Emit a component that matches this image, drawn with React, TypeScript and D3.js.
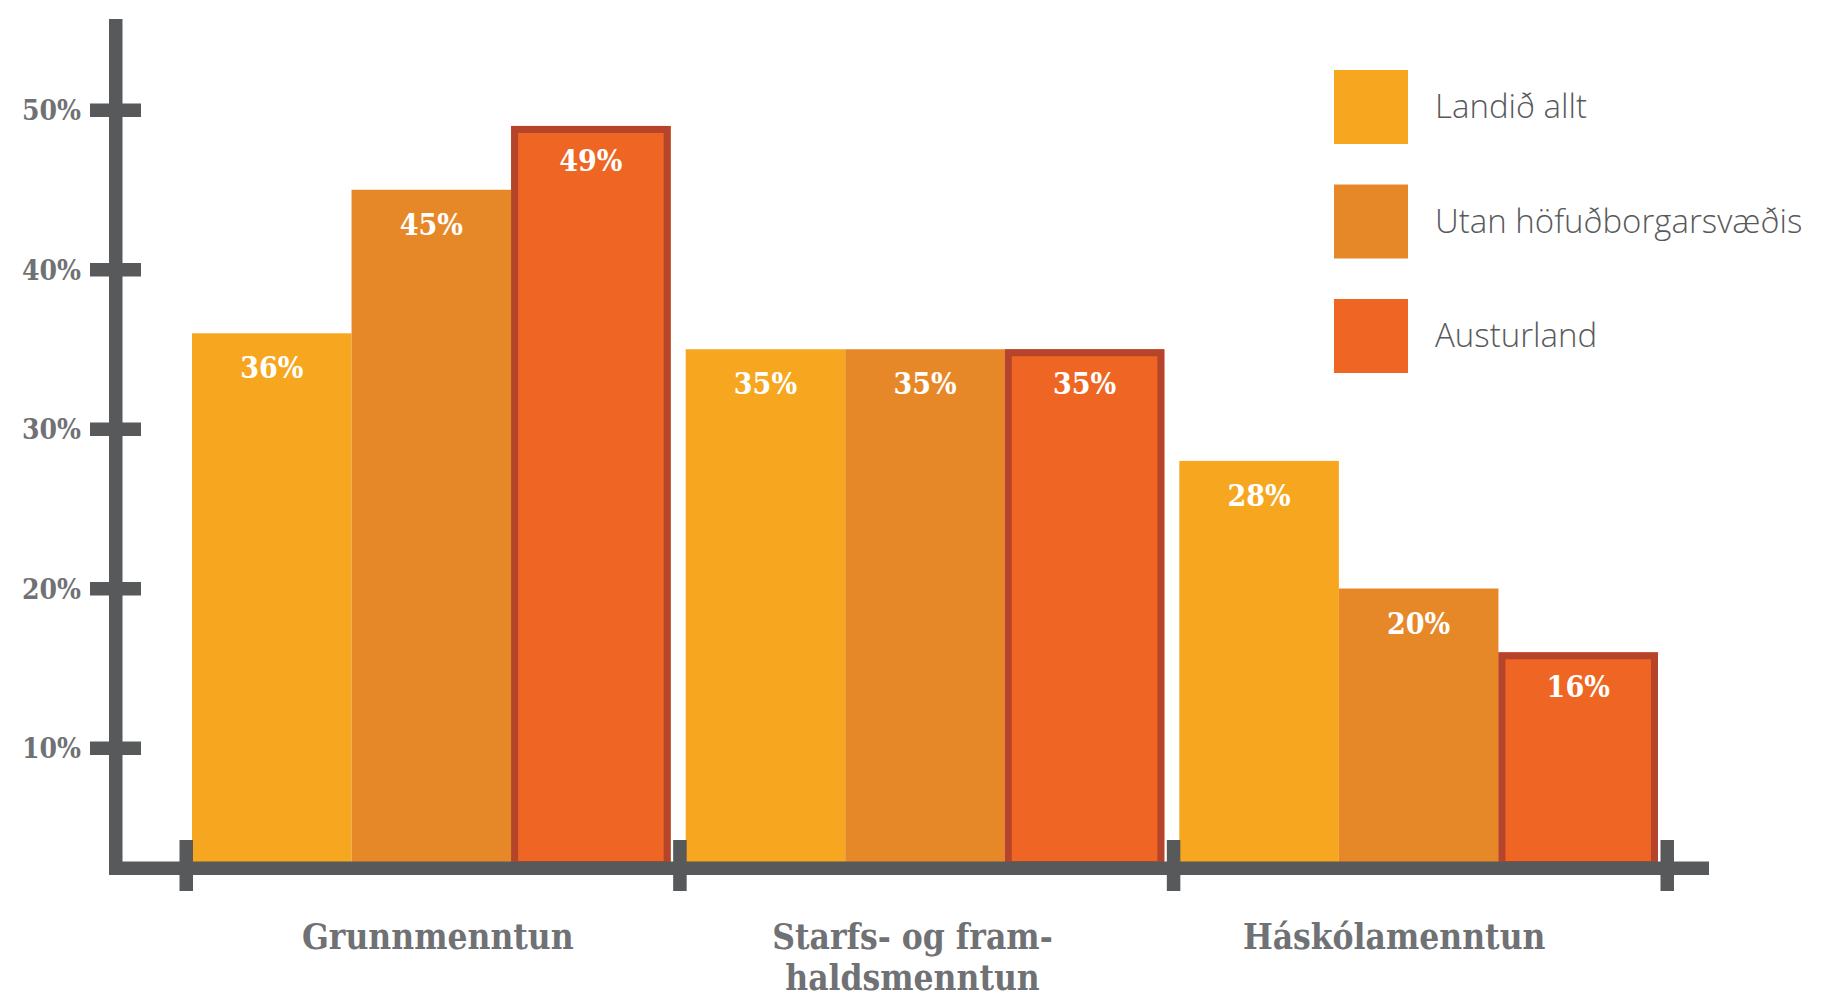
import { useMemo } from "react";
import * as d3 from "d3";

// ---- data ----
const categories = ["Grunnmenntun", "Starfs- og framhaldsmenntun", "Háskólamenntun"];
const categoryLines = [["Grunnmenntun"], ["Starfs- og fram-", "haldsmenntun"], ["Háskólamenntun"]];
const seriesNames = ["Landið allt", "Utan höfuðborgarsvæðis", "Austurland"];
const landidAllt = [36, 35, 28];
const utanHofudborgar = [45, 35, 20];
const austurland = [49, 35, 16];
const yTicks = [10, 20, 30, 40, 50];

const seriesValues = [landidAllt, utanHofudborgar, austurland];
const colors = ["#F7A71F", "#E78828", "#EF6624"];
const redBorder = "#B6442A";
const axisColor = "#58595B";
const labelGray = "#707174";
// small horizontal nudges of the category labels, as in the original layout
const labelShift = [5, -14, -26];

const W = 1835;
const H = 997;
const slab = "'DejaVu Serif Condensed', 'DejaVu Serif', serif";

export default function App() {
  const axisY = 868;
  const axisTop = axisY - 6.5;

  const x0 = useMemo(() => d3.scaleBand<string>().domain(categories).range([186, 1667]).padding(0), []);
  const x1 = useMemo(
    () => d3.scaleBand<string>().domain(seriesNames).range([6, x0.bandwidth() - 9]).padding(0),
    [x0]
  );
  const y = useMemo(() => d3.scaleLinear().domain([10, 50]).range([748, 110]), []);

  // category boundaries for x ticks
  const xTicks = [...categories.map((c) => x0(c)!), x0(categories[2])! + x0.bandwidth()];

  return (
    <svg width={W} height={H} style={{ position: "absolute", left: 0, top: 0, display: "block" }}>
      <rect width={W} height={H} fill="#fff" />

      {/* bars */}
      {categories.map((cat, ci) => (
        <g key={cat} transform={`translate(${x0(cat)},0)`}>
          {seriesNames.map((s, si) => {
            const v = seriesValues[si][ci];
            const bx = x1(s)!;
            const bw = x1.bandwidth();
            const by = y(v);
            const bh = axisY - by;
            const isRed = si === 2;
            return (
              <g key={s}>
                <rect x={bx} y={by} width={bw} height={bh} fill={colors[si]} />
                {isRed && (
                  <rect
                    x={bx + 3.5}
                    y={by + 3.5}
                    width={bw - 7}
                    height={bh - 7}
                    fill="none"
                    stroke={redBorder}
                    strokeWidth={7}
                  />
                )}
                <text
                  x={bx + bw / 2}
                  y={by + 45}
                  textAnchor="middle"
                  fill="#fff"
                  fontFamily={slab}
                  fontWeight="bold"
                  fontSize={30}
                  style={{ fontStretch: "condensed" }}
                >
                  {v}%
                </text>
              </g>
            );
          })}
        </g>
      ))}

      {/* y axis */}
      <rect x={109} y={19} width={13.5} height={axisY + 6.5 - 19} fill={axisColor} />
      {yTicks.map((t) => (
        <g key={t}>
          <rect x={90} y={y(t) - 6.5} width={51} height={13.5} fill={axisColor} />
          <text
            x={81}
            y={y(t) + 10}
            textAnchor="end"
            fill={labelGray}
            fontFamily={slab}
            fontWeight="bold"
            fontSize={28}
            style={{ fontStretch: "condensed" }}
          >
            {t}%
          </text>
        </g>
      ))}

      {/* x axis */}
      <rect x={109} y={axisTop} width={1709 - 109} height={13.5} fill={axisColor} />
      {xTicks.map((t, i) => (
        <rect key={i} x={t - 6.5} y={840} width={13.5} height={51} fill={axisColor} />
      ))}

      {/* category labels */}
      {categories.map((cat, ci) => {
        const cx = x0(cat)! + x0.bandwidth() / 2 + labelShift[ci];
        return (
          <text
            key={cat}
            x={cx}
            y={949}
            textAnchor="middle"
            fill={labelGray}
            fontFamily={slab}
            fontWeight="bold"
            fontSize={35}
            style={{ fontStretch: "condensed" }}
          >
            {categoryLines[ci].map((line, li) => (
              <tspan key={li} x={cx} dy={li === 0 ? 0 : 41}>
                {line}
              </tspan>
            ))}
          </text>
        );
      })}

      {/* legend */}
      {seriesNames.map((s, i) => (
        <g key={s} transform={`translate(1334,${70 + i * 114.5})`}>
          <rect width={74} height={74} fill={colors[i]} />
          <text
            x={101}
            y={48}
            fill={axisColor}
            fontFamily="'Open Sans', sans-serif"
            fontWeight={300}
            fontSize={33}
          >
            {s}
          </text>
        </g>
      ))}
    </svg>
  );
}
